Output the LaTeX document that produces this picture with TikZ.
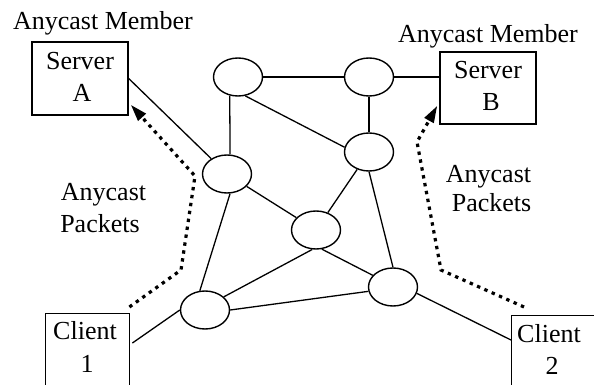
\documentclass[tikz,border=0pt]{standalone}
\usepackage{fontspec}
\setmainfont{Liberation Serif}
\usetikzlibrary{shapes.geometric,arrows.meta}
\begin{document}
\begin{tikzpicture}[x=1pt,y=-1pt,
  router/.style={ellipse,draw,line width=1.4pt,minimum width=49pt,minimum height=38pt,inner sep=0pt},
  host/.style={rectangle,draw,line width=1.4pt,inner sep=0pt},
  link/.style={line width=1.3pt},
  txt/.style={font=\fontsize{26}{32}\selectfont,anchor=base,inner sep=0pt},
  packets/.style={line width=3.2pt,dash pattern=on 3.4pt off 4.6pt,
    -{Triangle[length=17pt,width=10pt]}}]
\useasboundingbox (0,0) rectangle (594,385);
\clip (0,0) rectangle (594,385);

% routers of the network cloud
\node[router] (tl) at (238,77) {};
\node[router] (tr) at (369,77) {};
\node[router] (lm) at (227,174) {};
\node[router] (rm) at (369,152) {};
\node[router] (ce) at (316,230) {};
\node[router] (bl) at (205,310) {};
\node[router] (br) at (393,287) {};

% end hosts
\node[host,minimum width=96pt,minimum height=73pt] (sa) at (80,78.5) {};
\node[host,minimum width=96pt,minimum height=72pt] (sb) at (488,88) {};
\node[host,minimum width=84pt,minimum height=100pt,anchor=north west] (c1) at (45,313) {};
\node[host,minimum width=90pt,minimum height=100pt,anchor=north west] (c2) at (511,315) {};

% labels
\node[txt] (ma) at (103,30) {Anycast Member};
\node[txt] (mb) at (488,43) {Anycast Member};
\node[txt] (sa1) at (80,70) {Server};
\node[txt] (sa2) at (82,102) {A};
\node[txt] (sb1) at (488,79) {Server};
\node[txt] (sb2) at (491,111) {B};
\node[txt] (c11) at (85,339) {Client};
\node[txt] (c12) at (87,372) {1};
\node[txt] (c21) at (549,342) {Client};
\node[txt] (c22) at (552,374) {2};
\node[txt] (pa1) at (103.5,200) {Anycast};
\node[txt] (pa2) at (100,232) {Packets};
\node[txt] (pb1) at (488.5,182) {Anycast};
\node[txt] (pb2) at (491.5,211) {Packets};

% links
\draw[link] (sa.east) -- (lm);
\draw[link] (tl) -- (tr);
\draw[link] (tr) -- (tr -| sb.west);
\draw[link] (tl.-114) -- (lm.81);
\draw[link] (tl.-69) -- (rm.169);
\draw[link] (tr) -- (rm);
\draw[link] (rm) -- (ce);
\draw[link] (rm.south) -- (br.north);
\draw[link] (lm) -- (ce);
\draw[link] (lm.-81) -- (bl.105);
\draw[link] (ce.-101) -- (bl.35);
\draw[link] (ce.-73) -- (br.150);
\draw[link] (bl.east) -- (br.190);
\draw[link] ([shift={(2,30)}]c1.north east) -- (bl.west);
\draw[link] (br.-15) -- ([shift={(0,25)}]c2.north west);

% anycast packet paths
\draw[packets] ([shift={(-1,-6)}]c1.north east) -- (181,270) -- (195,176)
  -- ([shift={(2,-11)}]sa.south east);
\draw[packets] ([shift={(13,-8)}]c2.north west) -- (441,270) -- (417,142)
  -- ([shift={(-2,-19)}]sb.south west);
\end{tikzpicture}
\end{document}
